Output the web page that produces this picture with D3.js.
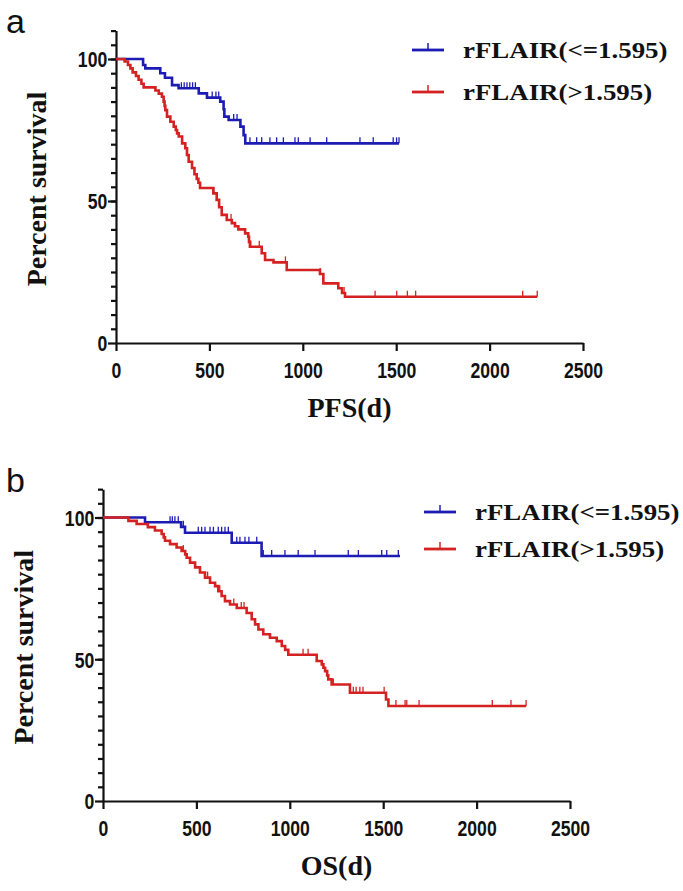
<!DOCTYPE html>
<html>
<head>
<meta charset="utf-8">
<script src="https://cdn.jsdelivr.net/npm/d3@7"></script>
<style>
  body { margin: 0; background: #fff; }
  svg { display: block; }
  .tick text { font-family: "Liberation Sans", Arial, sans-serif; font-weight: bold; fill: #111; }
  .serif { font-family: "Liberation Serif", "Times New Roman", serif; font-weight: bold; fill: #111; }
</style>
</head>
<body>
<svg id="chart" width="683" height="891"></svg>
<script>
// values (days, percent survival)
var seriesNames = ['rFLAIR(<=1.595)', 'rFLAIR(>1.595)'];
var seriesColors = ['#1c1cb4', '#d42222'];
var xTicks = [0, 500, 1000, 1500, 2000, 2500];
var yTicks = [0, 50, 100];

// a: PFS
var pfsLowTime = [145, 157, 237, 262, 300, 335, 443, 487, 558, 576, 580, 603, 666, 683, 692];
var pfsLowSurv = [97.9, 96.7, 95.0, 93.4, 90.8, 89.7, 87.9, 86.4, 85.0, 82.3, 79.7, 78.5, 76.2, 73.2, 70.3];
var pfsLowEnd = 1515;
var pfsLowCensor = [350, 365, 380, 395, 410, 425, 515, 535, 550, 630, 648, 717, 753, 780, 824, 860, 896,
  958, 976, 1039, 1128, 1306, 1377, 1484, 1502, 1515];

var pfsHighTime = [46, 64, 77, 89, 107, 121, 136, 148, 211, 229, 246, 255, 260, 264, 273, 291, 309, 320, 327,
  336, 354, 371, 380, 389, 407, 420, 432, 441, 450, 521, 539, 552, 566, 593, 620, 637, 655, 691, 708, 712,
  717, 780, 798, 843, 914, 1092, 1110, 1190, 1210, 1226];
var pfsHighSurv = [99.1, 97.9, 96.7, 95.3, 94.0, 92.7, 91.3, 90.0, 88.9, 87.8, 86.7, 85.0, 83.5, 82.0, 79.7,
  77.9, 76.2, 75.0, 73.8, 72.7, 70.3, 68.6, 66.2, 63.8, 61.6, 59.4, 57.8, 56.4, 54.6, 52.7, 50.4, 47.8, 45.1,
  43.3, 42.2, 41.1, 40.0, 38.6, 37.4, 35.6, 33.9, 31.6, 29.2, 28.4, 25.7, 24.3, 21.0, 19.3, 17.6, 16.3];
var pfsHighEnd = 2255;
var pfsHighCensor = [523, 616, 721, 767, 907, 1093, 1221, 1387, 1503, 1560, 1604, 2177, 2255];

// b: OS
var osLowTime = [225, 418, 439, 689, 849];
var osLowSurv = [98.3, 96.7, 94.6, 91.1, 86.4];
var osLowEnd = 1590;
var osLowCensor = [359, 371, 385, 403, 430, 510, 528, 546, 573, 591, 617, 635, 653, 671, 716, 733, 760, 781,
  823, 858, 903, 974, 1045, 1135, 1313, 1367, 1492, 1519, 1581];

var osHighTime = [136, 180, 240, 278, 314, 325, 332, 359, 394, 421, 440, 448, 466, 493, 519, 546, 573, 600,
  617, 635, 653, 680, 716, 769, 796, 814, 832, 858, 894, 930, 957, 975, 992, 1144, 1171, 1180, 1189, 1200,
  1206, 1224, 1322, 1515, 1528];
var osHighSurv = [98.8, 97.7, 96.6, 95.4, 94.2, 93.0, 91.8, 90.6, 89.4, 88.2, 87.0, 85.8, 84.1, 82.4, 80.6,
  78.8, 77.0, 75.8, 74.0, 72.3, 70.5, 69.3, 68.1, 66.3, 64.1, 62.3, 60.5, 58.8, 57.6, 56.4, 54.7, 53.3, 51.6,
  49.4, 48.2, 47.0, 45.8, 44.3, 42.9, 41.1, 38.2, 35.8, 33.5];
var osHighEnd = 2265;
var osHighCensor = [430, 560, 625, 700, 740, 755, 1071, 1098, 1233, 1340, 1355, 1375, 1392, 1505, 1568, 1617,
  1626, 1692, 2084, 2184, 2265];

var panels = [
  { label: 'a', xTitle: 'PFS(d)', left: 116, right: 583, top: 59, bottom: 343,
    legendX: 412, legendY: 50, legendGap: 42,
    series: [
      { time: pfsLowTime, surv: pfsLowSurv, end: pfsLowEnd, censor: pfsLowCensor },
      { time: pfsHighTime, surv: pfsHighSurv, end: pfsHighEnd, censor: pfsHighCensor }
    ] },
  { label: 'b', xTitle: 'OS(d)', left: 103, right: 570, top: 517.5, bottom: 801,
    legendX: 424, legendY: 512, legendGap: 37,
    series: [
      { time: osLowTime, surv: osLowSurv, end: osLowEnd, censor: osLowCensor },
      { time: osHighTime, surv: osHighSurv, end: osHighEnd, censor: osHighCensor }
    ] }
];

var svg = d3.select('#chart');

//
// survival at time t from the step list
function survAt(s, t) {
  var i = d3.bisectRight(s.time, t) - 1;
  return i < 0 ? 100 : s.surv[i];
}

function drawPanel(p) {
  var x = d3.scaleLinear().domain([0, 2500]).range([p.left, p.right]);
  var y = d3.scaleLinear().domain([0, 100]).range([p.bottom, p.top]);
  var g = svg.append('g');

  // y axis: minor ticks every 5, labelled majors
  g.append('g')
    .attr('transform', 'translate(' + p.left + ',0)')
    .call(d3.axisLeft(y).tickValues(d3.range(5, 111, 5)).tickSize(5).tickFormat(''))
    .call(function(a) { a.select('.domain').remove(); });
  var ya = g.append('g')
    .attr('transform', 'translate(' + p.left + ',0)')
    .call(d3.axisLeft(y.copy().domain([0, 110]).range([p.bottom, y(110)])).tickValues(yTicks)
      .tickSize(8).tickSizeOuter(0).tickPadding(3));
  ya.selectAll('text').attr('font-size', 22).attr('transform', 'scale(0.8,1)').attr('dy', '0.36em');

  var xa = g.append('g')
    .attr('transform', 'translate(0,' + p.bottom + ')')
    .call(d3.axisBottom(x).tickValues(xTicks).tickFormat(d3.format('d'))
      .tickSize(8).tickSizeOuter(0).tickPadding(11));
  xa.selectAll('text').attr('font-size', 22).attr('transform', 'scale(0.8,1)');
  g.selectAll('.domain, .tick line').attr('stroke', '#111').attr('stroke-width', 2.2);

  // curves
  var line = d3.line().x(function(d) { return x(d[0]); }).y(function(d) { return y(d[1]); })
    .curve(d3.curveStepAfter);
  p.series.forEach(function(s, k) {
    var pts = [[0, 100]];
    s.time.forEach(function(t, i) { pts.push([t, s.surv[i]]); });
    pts.push([s.end, s.surv[s.surv.length - 1]]);
    g.append('path').datum(pts)
      .attr('d', line)
      .attr('fill', 'none')
      .attr('stroke', seriesColors[k])
      .attr('stroke-width', 2.6);
    g.selectAll('line.censor' + k).data(s.censor).enter().append('line')
      .attr('class', 'censor' + k)
      .attr('x1', function(d) { return x(d); }).attr('x2', function(d) { return x(d); })
      .attr('y1', function(d) { return y(survAt(s, d)); })
      .attr('y2', function(d) { return y(survAt(s, d)) - 6; })
      .attr('stroke', seriesColors[k])
      .attr('stroke-width', 1.3);
  });

  // legend
  seriesNames.forEach(function(name, k) {
    var ly = p.legendY + k * p.legendGap;
    g.append('line').attr('x1', p.legendX).attr('x2', p.legendX + 32)
      .attr('y1', ly).attr('y2', ly)
      .attr('stroke', seriesColors[k]).attr('stroke-width', 2.8);
    g.append('line').attr('x1', p.legendX + 16).attr('x2', p.legendX + 16)
      .attr('y1', ly).attr('y2', ly - 7)
      .attr('stroke', seriesColors[k]).attr('stroke-width', 1.5);
    g.append('text').attr('class', 'serif')
      .attr('transform', 'translate(' + (p.legendX + 51) + ',' + (ly + 8) + ') scale(1.12,1)')
      .attr('font-size', 24)
      .text(name);
  });

  // titles
  g.append('text').attr('class', 'serif')
    .attr('transform', 'translate(' + (p.left - 70) + ',' + ((p.top + p.bottom) / 2 - 12) + ') rotate(-90)')
    .attr('text-anchor', 'middle')
    .attr('font-size', 28)
    .text('Percent survival');
  g.append('text').attr('class', 'serif')
    .attr('x', (p.left + p.right) / 2).attr('y', p.bottom + 74)
    .attr('text-anchor', 'middle')
    .attr('font-size', 28)
    .text(p.xTitle);
  g.append('text')
    .attr('x', 6).attr('y', p.top - 26)
    .attr('font-family', '"Liberation Sans", Arial, sans-serif')
    .attr('font-size', 34)
    .attr('fill', '#111')
    .text(p.label);
}

panels.forEach(drawPanel);
</script>
</body>
</html>
